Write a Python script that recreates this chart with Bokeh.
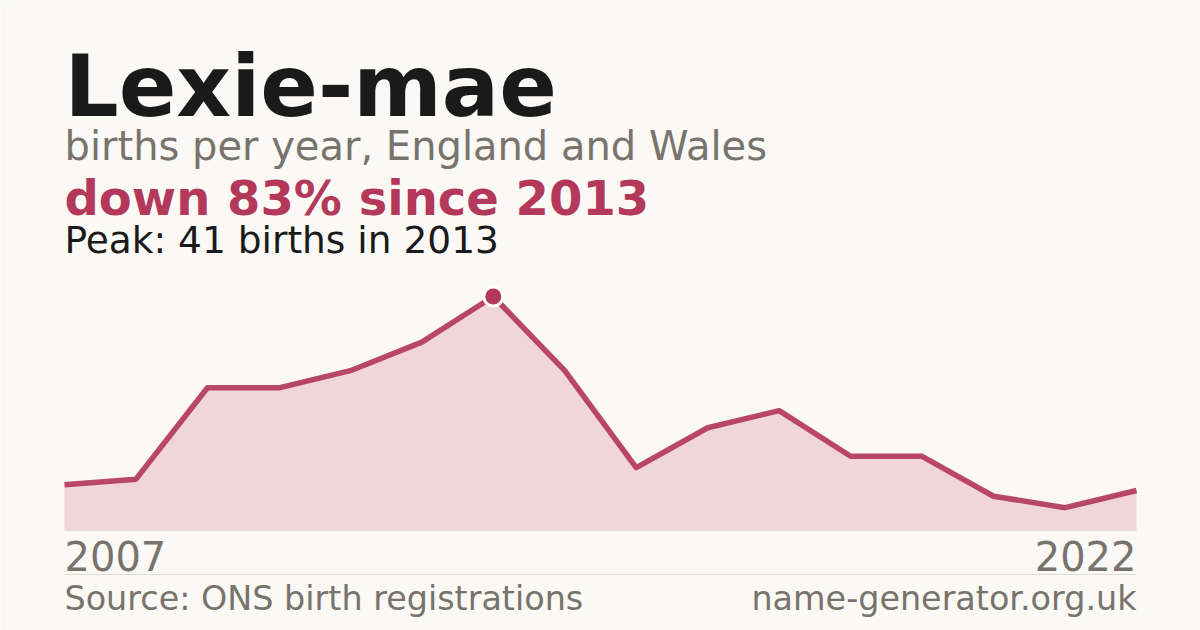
from bokeh.plotting import figure
from bokeh.models import Range1d, Label, BoxAnnotation
from bokeh.embed import file_html
from bokeh.resources import INLINE

name = "Lexie-mae"
years = list(range(2007, 2023))
births = [8, 9, 25, 25, 28, 33, 41, 28, 11, 18, 21, 13, 13, 6, 4, 7]
subtitle = "births per year, England and Wales"
source = "Source: ONS birth registrations"
site = "name-generator.org.uk"

BG = "#faf9f5"
CRIMSON = "#b3385a"
FILL = "#f0d5da"
GREY = "#78736c"
DARK = "#1a1a1a"
FONT = "DejaVu Sans"

W, H = 1200, 630
PL, PR = 64, 1136          # screen x of first / last year
PB, PT = 100, 334          # screen y (from bottom) of zero / peak

peak_i = max(range(len(births)), key=lambda i: births[i])
peak_year, peak_val = years[peak_i], births[peak_i]
last_val = births[-1]
drop = round((peak_val - last_val) / peak_val * 100)

step = (PR - PL) / (years[-1] - years[0])
k = (PT - PB) / peak_val

p = figure(width=W, height=H, output_backend="svg", toolbar_location=None,
           x_range=Range1d(years[0] - PL / step, years[-1] + (W - PR) / step),
           y_range=Range1d(-PB / k, (H - PB) / k),
           min_border=0, min_border_left=0, min_border_right=0,
           min_border_top=0, min_border_bottom=0)
p.axis.visible = False
p.grid.visible = False
p.outline_line_color = None
p.background_fill_color = BG
p.border_fill_color = BG

p.varea(x=years, y1=[0] * len(years), y2=births, fill_color=FILL)
p.segment(x0=[years[0]], x1=[years[-1]], y0=[0], y1=[0], line_color="#e2dcd8", line_width=1)
p.line(x=years, y=births, line_color=CRIMSON, line_width=5.5, line_join="round", line_alpha=0.92)
p.scatter(x=[peak_year], y=[peak_val], size=19, fill_color=CRIMSON,
          line_color="white", line_width=3)

def lab(text, x, baseline, size, color, bold=False, align="left"):
    # baseline given in page pixels from the top
    y = H - baseline + 0.36 * size
    p.add_layout(Label(x=x, y=y, x_units="screen", y_units="screen", text=text,
                       text_font=FONT, text_font_size=f"{size}px",
                       text_font_style="bold" if bold else "normal",
                       text_color=color, text_align=align,
                       text_baseline="alphabetic"))

lab(name, PL, 117, 85, DARK, bold=True)
lab(subtitle, PL, 160, 40, GREY)
lab(f"down {drop}% since {peak_year}", PL, 215, 48, CRIMSON, bold=True)
lab(f"Peak: {peak_val} births in {peak_year}", PL, 253, 37.5, DARK)
lab(str(years[0]), PL, 570, 40, GREY)
lab(str(years[-1]), PR, 570, 40, GREY, align="right")
lab(source, PL, 610, 33.4, GREY)
lab(site, PR, 610, 33.4, GREY, align="right")

p.add_layout(BoxAnnotation(left=PL, right=PR, bottom=55.5, top=56.5,
                           left_units="screen", right_units="screen",
                           bottom_units="screen", top_units="screen",
                           fill_color="#dedad5", fill_alpha=1, line_color=None))

open("out.html", "w").write(file_html(p, INLINE))
